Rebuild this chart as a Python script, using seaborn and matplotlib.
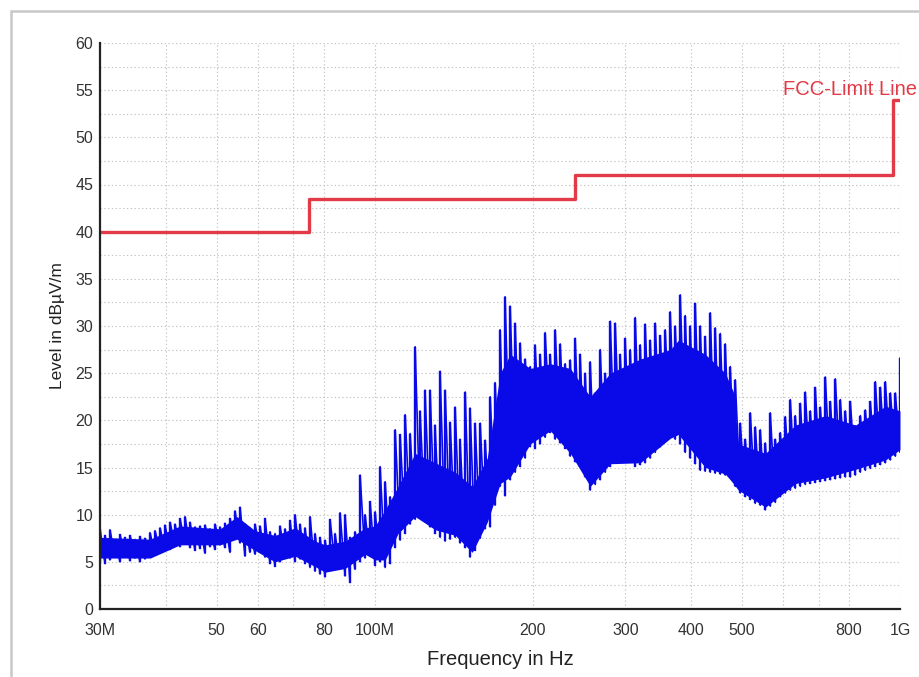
import numpy as np
import matplotlib
matplotlib.use("Agg")
import matplotlib.pyplot as plt
import matplotlib.ticker as mticker
from matplotlib.patches import Rectangle
import seaborn as sns
import pandas as pd

# ---------------- data ----------------
# measured trace, read as short sweep segments: frequency [MHz], local min / max [dBuV/m]
sweep_freq_mhz = [
    30.0, 30.67, 31.34, 32.04, 32.75, 33.47, 34.22, 34.97, 35.75, 36.54,
    37.35, 38.18, 39.03, 39.89, 40.78, 41.68, 42.60, 43.55, 44.51, 45.50,
    46.51, 47.54, 48.59, 49.67, 50.77, 51.89, 53.04, 54.22, 55.42, 56.65,
    57.90, 59.19, 60.50, 61.84, 63.21, 64.61, 66.04, 67.51, 69.00, 70.53,
    72.10, 73.69, 75.33, 77.00, 78.71, 80.45, 82.23, 84.06, 85.92, 87.82,
    89.77, 91.76, 93.80, 95.88, 98.00, 100.2, 102.4, 104.7, 107.0, 109.4,
    111.8, 114.3, 116.8, 119.4, 122.0, 124.7, 127.5, 130.3, 133.2, 136.2,
    139.2, 142.3, 145.4, 148.7, 151.9, 155.3, 158.8, 162.3, 165.9, 169.5,
    173.3, 177.1, 181.1, 185.1, 189.2, 193.4, 197.7, 202.0, 206.5, 211.1,
    215.8, 220.6, 225.5, 230.5, 235.6, 240.8, 246.1, 251.6, 257.2, 262.9,
    268.7, 274.7, 280.8, 287.0, 293.3, 299.8, 306.5, 313.3, 320.2, 327.3,
    334.6, 342.0, 349.6, 357.3, 365.2, 373.3, 381.6, 390.1, 398.7, 407.6,
    416.6, 425.8, 435.3, 444.9, 454.8, 464.9, 475.2, 485.7, 496.5, 507.5,
    518.8, 530.3, 542.0, 554.0, 566.3, 578.9, 591.7, 604.8, 618.2, 631.9,
    645.9, 660.2, 674.9, 689.8, 705.1, 720.8, 736.8, 753.1, 769.8, 786.9,
    804.3, 822.2, 840.4, 859.1, 878.1, 897.6, 917.5, 937.8, 958.6, 979.9,
    1000.0]
sweep_low = [
    5.0, 4.8, 5.2, 5.5, 5.0, 5.6, 5.1, 5.4, 5.0, 5.3,
    5.5, 5.9, 6.2, 6.4, 6.3, 6.8, 6.6, 6.9, 6.5, 6.2,
    6.4, 5.9, 6.6, 6.3, 6.8, 6.5, 6.0, 7.4, 7.0, 5.6,
    6.0, 5.8, 6.2, 5.5, 4.8, 4.5, 5.0, 5.6, 5.4, 5.0,
    5.3, 4.8, 4.4, 4.0, 3.7, 3.4, 4.2, 4.6, 4.4, 3.5,
    2.8, 4.2, 5.0, 5.4, 5.6, 4.6, 5.0, 4.4, 4.8, 6.5,
    7.3, 8.0, 9.0, 9.5, 10.0, 9.5, 8.7, 8.0, 7.6, 7.2,
    7.4, 7.6, 7.0, 6.5, 5.5, 6.2, 7.5, 8.5, 8.7, 11.0,
    13.0, 12.0, 13.7, 14.5, 15.1, 16.0, 17.2, 17.0, 17.5, 18.2,
    18.7, 18.0, 17.6, 17.0, 16.2, 15.6, 15.1, 14.0, 12.6, 13.2,
    13.7, 14.5, 15.1, 15.5, 15.8, 16.2, 15.6, 15.1, 15.3, 15.5,
    16.0, 16.6, 17.2, 17.9, 18.3, 18.0, 17.5, 16.6, 16.0, 15.4,
    14.7, 14.6, 14.5, 14.4, 14.3, 14.2, 14.0, 13.0, 12.3, 11.9,
    11.6, 11.2, 11.0, 10.5, 10.9, 11.3, 11.9, 12.3, 12.6, 12.8,
    13.0, 13.2, 13.3, 13.4, 13.5, 13.6, 13.7, 13.8, 13.9, 14.0,
    14.0, 14.2, 14.5, 14.7, 14.9, 15.1, 15.3, 15.5, 15.8, 16.2,
    16.6]
sweep_high = [
    8.5, 7.8, 8.4, 7.2, 7.9, 7.6, 7.8, 7.3, 7.7, 7.5,
    8.1, 8.3, 8.6, 8.9, 9.2, 9.0, 9.6, 9.8, 9.2, 8.7,
    8.8, 8.9, 8.5, 9.0, 8.7, 9.1, 9.6, 10.4, 10.8, 9.0,
    8.6, 9.0, 8.8, 9.6, 8.2, 8.0, 8.8, 8.5, 9.4, 10.0,
    9.0, 8.6, 9.8, 8.0, 7.6, 7.3, 9.5, 8.0, 10.2, 10.0,
    7.6, 8.2, 14.2, 10.0, 11.4, 10.3, 15.1, 13.5, 11.9, 19.0,
    18.5, 20.6, 18.6, 27.8, 21.0, 23.2, 23.2, 19.5, 25.2, 23.2,
    19.8, 21.4, 18.0, 23.0, 21.3, 19.7, 19.7, 17.9, 22.5, 24.0,
    29.6, 33.1, 32.1, 30.3, 28.2, 26.5, 25.7, 28.0, 27.0, 29.3,
    27.0, 29.6, 28.1, 26.0, 26.4, 28.7, 27.0, 25.0, 26.2, 22.9,
    27.5, 25.0, 30.5, 30.3, 27.0, 28.7, 27.5, 30.9, 28.0, 30.2,
    28.5, 30.3, 29.0, 29.6, 31.5, 30.0, 33.3, 31.1, 30.0, 32.4,
    30.0, 28.9, 31.4, 29.8, 29.2, 28.1, 25.7, 24.3, 19.7, 18.0,
    20.8, 19.3, 19.0, 17.6, 20.8, 18.0, 18.7, 20.4, 22.2, 20.5,
    21.8, 23.0, 21.0, 23.5, 21.4, 24.6, 22.0, 24.4, 22.2, 21.0,
    22.0, 19.4, 20.5, 21.1, 22.0, 24.1, 23.5, 24.1, 22.9, 22.9,
    26.6]

# solid core of the trace: frequency [MHz], lower / upper edge [dBuV/m]
core_freq_mhz = [30, 37.4, 42.6, 50.8, 54.7, 59.2, 64.6, 70.6, 77.0, 80.5, 87.9, 95.9,
                 100.2, 104.7, 110.8, 119.4, 130.4, 142.4, 153.4, 163.8, 173.4, 181.2,
                 197.8, 215.9, 235.7, 257.3, 280.9, 320.4, 365.5, 378.7, 426, 465,
                 481.8, 492.3, 554.5, 632.5, 721.6, 822.8, 938.7, 1000]
core_low = [5.4, 5.4, 6.8, 6.8, 7.4, 6.2, 5.0, 5.6, 4.5, 3.9, 4.3, 5.8,
            5.2, 5.2, 8.0, 9.8, 8.4, 7.8, 6.0, 9.2, 13.3, 14.0,
            17.5, 18.9, 16.5, 13.0, 15.4, 15.5, 18.1, 18.5, 15.0, 14.3,
            13.3, 12.6, 10.8, 13.3, 13.9, 14.8, 15.8, 16.9]
core_high = [7.6, 7.4, 8.8, 8.5, 9.8, 8.3, 7.8, 8.6, 7.2, 6.8, 7.2, 8.6,
             8.8, 10.5, 13.0, 16.5, 15.5, 14.5, 13.0, 16.0, 25.0, 27.0,
             25.5, 26.0, 25.5, 22.5, 25.0, 26.5, 27.5, 28.5, 27.0, 25.0,
             23.0, 17.5, 16.5, 19.5, 20.5, 19.5, 21.5, 21.0]

# FCC limit line (steps)
limit_freq_mhz = [30, 75, 241, 970, 1000]
limit_level = [40, 43.5, 46, 54, 54]

x_tick_mhz = [30, 40, 50, 60, 70, 80, 100, 200, 300, 400, 500, 600, 700, 800, 1000]
x_tick_labels = ["30M", "", "50", "60", "", "80", "100M", "200", "300", "400", "500",
                 "", "", "800", "1G"]

# ---------------- plot ----------------
sns.set_style("white")
plt.rcParams["font.family"] = ["Liberation Sans", "DejaVu Sans"]

W, H = 919, 677
fig = plt.figure(figsize=(W / 100, H / 100), dpi=100)
ax = fig.add_axes([100 / W, 68 / H, 800 / W, 566 / H])

blue = "#0a0ae8"
red = "#e23a46"

cf = np.array(core_freq_mhz) * 1e6
ax.fill_between(cf, core_low, core_high, color=blue, lw=0, zorder=3)

sf = np.array(sweep_freq_mhz) * 1e6
sl = np.array(sweep_low)
sh = np.array(sweep_high)
ax.vlines(sf, sl, sh, color=blue, lw=1.7, zorder=3)

# the trace itself: each sweep segment runs min -> max, then drops to the next min
trace_f = np.repeat(sf, 2)
trace_v = np.column_stack([sl, sh]).ravel()
trace_df = pd.DataFrame({"f": trace_f, "v": trace_v})
sns.lineplot(data=trace_df, x="f", y="v", sort=False, estimator=None,
             color=blue, lw=1.2, ax=ax, zorder=3)

lim_df = pd.DataFrame({"f": np.array(limit_freq_mhz) * 1e6, "v": limit_level})
sns.lineplot(data=lim_df, x="f", y="v", drawstyle="steps-post", color=red,
             lw=2.4, ax=ax, zorder=4)

ax.set_xscale("log")
ax.set_xlim(30e6, 1e9)
ax.set_ylim(0, 60)
ax.xaxis.set_major_locator(mticker.FixedLocator(np.array(x_tick_mhz) * 1e6))
ax.xaxis.set_major_formatter(mticker.FixedFormatter(x_tick_labels))
ax.xaxis.set_minor_locator(mticker.NullLocator())
ax.yaxis.set_major_locator(mticker.MultipleLocator(5))
ax.yaxis.set_minor_locator(mticker.MultipleLocator(2.5))

ax.grid(True, which="both", axis="y", color="#c4c4c4", lw=0.8, ls=(0, (1.2, 2.2)), zorder=0)
ax.grid(True, which="major", axis="x", color="#c4c4c4", lw=0.8, ls=(0, (1.2, 2.2)), zorder=0)

for s in ["top", "right"]:
    ax.spines[s].set_visible(False)
for s in ["left", "bottom"]:
    ax.spines[s].set_color("#222222")
    ax.spines[s].set_linewidth(1.6)
    ax.spines[s].set_zorder(5)

ax.tick_params(axis="both", which="both", direction="inout", length=8, width=1.4,
               color="#222222", labelcolor="#333333", labelsize=11.5)
ax.tick_params(axis="x", pad=6)
ax.tick_params(axis="y", pad=1)

ax.set_xlabel("Frequency in Hz", fontsize=14.5, color="#222222", labelpad=9)
ax.set_ylabel("Level in dB\u00b5V/m", fontsize=12.5, color="#222222", labelpad=7)

ax.text(600e6, 55.1, "FCC-Limit Line", color=red, fontsize=14.5, ha="left",
        va="center", clip_on=False, zorder=6)

fig.add_artist(Rectangle((10.5 / W, -0.2), 1.5, 0.2 + (H - 11) / H,
                         transform=fig.transFigure, fill=False,
                         edgecolor="#c8c8c8", lw=1.8))

if ax.get_legend() is not None:
    ax.get_legend().remove()
fig.savefig("out.png", dpi=100)
